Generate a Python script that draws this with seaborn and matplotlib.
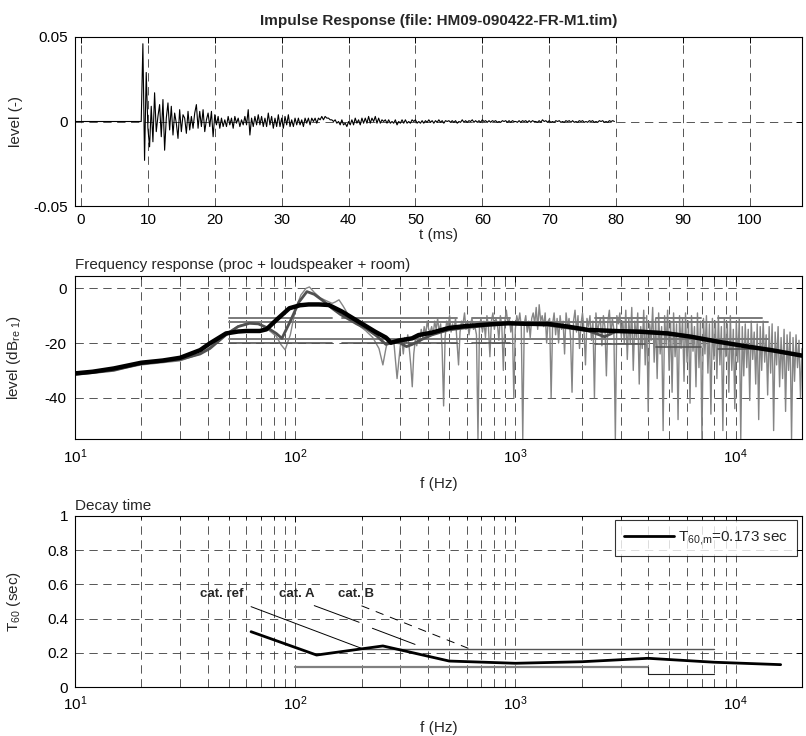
import numpy as np
import pandas as pd
import matplotlib
matplotlib.use("Agg")
import matplotlib.pyplot as plt
import seaborn as sns
from matplotlib.ticker import LogLocator, NullFormatter

# ------------------------------------------------------------------ data
# impulse response (level x 1e-3), sampled every 0.25 ms starting at 9.0 ms
ir_lead_t = [-1.0, 8.75]
ir_lead = [0.0, 0.0]
ir_t_start = 9.0
ir_dt = 0.25
ir_milli = [
    0, 46, -23, 29,   -4, -15, 9, -12,   17, -6, 3, 10,    -9, 13, -17, 2,
    11, -5, 9, -8,    5, -1, -10, 7,     -6, 4, 2, -7,     6, -5, 3, -4,
    5, 10, -4, 6,     -3, 7, -6, 1,      5, -3, 6, -9,     4, -2, 3, -4,
    2, -3, 1, -3,     3, -2, 2, -4,      3, -1, 2, -3,     1, -2, 3, -2,
    7, -8, 2, -3,     3, -2, 4, -2,      3, -3, 2, -3,     5, -2, 3, -4,
    2, -3, 4, -3,     2, -4, 3, -2,      4, -3, 1, -3,     2, -2, 2, -2,
    1, -3, 2, -1,     2, -2, 2, 0,       2, -1, 2, 1,      3, 1, 3, 2,
    2, 1, 1, 0,       1, -1, 0, -2,      1, -2, -1, -3,    0, -2, 1, -2,
    2, -1, 1, -2,     2, -1, 2, -1,      3, -1, 2, 0,      3, -1, 2, -1,
    1, 0, 1, -1,      1, -1, 0, -1,      1, -2, 0, -1,     1, -1, 1, -1,
    0, -1, 1, 0,      1, -1, 0, -1,      0.5, -1, 0.5, -0.5, 1, -0.5, 0.5, -1,
    0.5, -0.5, 1, -0.5, 0.5, -1, 0.5, 0, 0.5, -0.5, 0.5, -0.5, 0.5, -1, 0, -0.5,
    1, -0.5, 0.5, -0.5, 0.5, 0, 1, -0.5, 0.5, -0.5, 0.5, -0.5, 1, 0, 0.5, -0.5,
    0.5, -0.5, 0.5, 0, 0.5, -0.5, 0, -0.5, 0.5, 0, 0.5, -0.5, 0.5, -0.5, 0.5, 0,
    0, -0.5, 0.5, -0.5, 0.5, 0, 0.5, -0.5, 0.5, -0.5, 0.5, 0, 0, -0.5, 0.5, -0.5,
    1, 0, 0.5, -0.5,  0.5, -0.5, 0, -0.5, 0.5, 0, 0.5, -0.5, 0, -0.5, 0.5, 0,
    0.5, -0.5, 0.5, -0.5, 0, -0.5, 0.5, 0, 0.5, -0.5, 0, -0.5, 0.5, 0, 0.5, -0.5,
    0, -0.5, 0.5, 0,  0.5, -0.5, 0, -0.5, 0.5, 0, 0.5, 0,
]

# frequency response
oct_f = [10, 12, 15, 20, 25, 30, 37, 41, 48.5, 55, 60, 69, 74, 82, 94, 105, 115, 128, 142,
         163, 194, 231, 258, 272, 295, 339, 363, 418, 498, 593, 753, 927, 1141, 1405, 1730,
         2130, 2820, 3720, 4900, 6260, 8280, 10930, 14500, 20000]
oct_db = [-31.1, -30.5, -29.3, -27.2, -26.4, -25.4, -22.6, -20.1, -16.5, -15.8, -15.6, -15.6,
          -15.0, -11.6, -7.3, -6.2, -5.9, -5.9, -6.1, -8.5, -12.2, -15.9, -18.0, -19.9, -19.1,
          -18.3, -17.1, -16.2, -14.5, -13.8, -13.2, -12.8, -13.0, -13.0, -14.0, -15.2, -15.6,
          -15.9, -16.5, -17.7, -19.5, -21.1, -22.6, -24.6]

third_f = [10, 15, 20, 30, 37, 41, 48.5, 55, 62, 68, 75, 82, 87, 95, 104, 113, 122, 135, 147,
           160, 175, 190, 209, 235, 258, 280, 300, 320, 340, 380, 418, 460, 498, 611, 753, 927,
           1141, 1405, 1730, 2130, 2540, 2900, 3720, 4900, 6260, 8280, 10930, 14500, 20000]
third_db = [-31.5, -30.0, -27.5, -26.0, -24.0, -22.0, -17.0, -14.0, -12.8, -13.0, -14.5, -16.5,
            -18.3, -12.0, -5.0, -1.2, -2.2, -4.8, -7.3, -9.5, -11.3, -13.0, -14.6, -17.5, -20.5,
            -19.7, -20.0, -21.3, -20.5, -18.5, -17.0, -16.0, -15.2, -14.3, -13.5, -12.7, -13.2,
            -13.5, -14.5, -15.5, -17.7, -15.5, -15.6, -16.2, -17.5, -19.3, -21.0, -22.5, -24.8]

raw_lo_f = [10, 15, 20, 30, 37, 41, 48.5, 55, 62, 68, 75, 82, 86, 90, 95, 100, 106, 112, 116,
            122, 130, 138, 147, 152, 158, 165, 175, 190, 209, 225, 240, 250, 258, 265, 272, 280,
            290, 300]
raw_lo_db = [-31, -30, -28, -26.5, -24, -21.5, -16.5, -13.8, -12.5, -13, -15, -17.5, -20.5,
             -22.5, -17, -8, -2.5, 0, 0.5, -1.5, -3.5, -4.5, -5.5, -5, -4.2, -6.5, -10, -13,
             -15.5, -18, -22, -28, -22, -18, -20, -19, -33, -21]
raw_hi_start, raw_hi_stop = 300, 20000
raw_hi_db = [
    -21, -19, -24, -18, -20, -17, -22, -28, -36, -24, -19, -21, -17, -20, -15, -18, -14, -17, -12, -15, -16,
    -14, -17, -12, -15, -11, -16, -13, -22, -43, -18, -12, -14, -10, -16, -13, -15, -11, -20, -28, -16,
    -12, -13, -9, -15, -12, -17, -13, -11, -15, -14,
    -17, -55, -14, -11, -16, -12, -18, -10, -14, -25, -12, -9, -15, -11, -13, -19, -10, -14, -30, -12,
    -8, -13, -11, -16, -12, -40, -15, -10, -13, -9, -14, -55, -13, -10, -16, -12, -18, -11, -9, -13,
    -7, -15, -6, -12, -10, -14, -9, -20, -12, -11,
    -40, -13, -9, -17, -11, -20, -10, -15, -12, -24, -9, -14, -11, -18, -38, -12, -8, -16, -10, -22,
    -13, -9, -15, -28, -11, -14, -10, -19, -12, -40, -9, -16, -13, -11, -21, -10, -14, -32, -12, -8,
    -17, -11, -15, -55, -10, -13, -9, -18, -12, -20,
    -8, -26, -11, -20, -7, -30, -12, -18, -9, -35, -14, -22, -8, -28, -10, -45, -13, -19, -7, -27,
    -11, -33, -9, -24, -14, -52, -10, -21, -8, -30, -12, -38, -9, -25, -13, -48, -10, -22, -11, -34,
    -9, -27, -12, -42, -10, -23, -14, -36, -9, -29, -12, -55, -11, -24, -10, -31, -13, -46, -11, -26,
    -12, -33, -10, -28, -14, -52, -11, -25, -13, -38, -10, -30, -15, -44, -12, -27, -11, -55, -14, -32,
    -13, -29, -15, -41, -12, -26, -16, -35, -13, -48, -14, -30, -12, -27, -17, -39, -14, -31, -13, -52,
    -16, -28, -14, -36, -18, -33, -15, -45, -17, -30, -16, -55, -18, -34, -17, -29, -19, -40, -22,
]

# tolerance lines in the frequency-response panel
tol_long_f = [50, 14000]
tol_long_db = [-12.2, -18.5]
tol_seg_f1 = [50, 163, 632, 2290, 4340, 8270]
tol_seg_f2 = [147, 541, 948, 3870, 6960, 13200]
tol_seg_up = [-10.7, -10.7, -10.7, -10.7, -10.7, -10.7]
tol_seg_lo = [-20.1, -20.1, -20.1, -20.4, -21.6, -22.3]

# decay time
t60_f = [63, 125, 250, 500, 1000, 2000, 4000, 8000, 16000]
t60_s = [0.324, 0.188, 0.241, 0.153, 0.140, 0.149, 0.169, 0.146, 0.132]
lim_lo_f = [100, 4000]
lim_lo_s = [0.12, 0.12]
lim_step_f = [4000, 4000, 8000]
lim_step_s = [0.12, 0.076, 0.076]
lim_hi_f = [200, 8000]
lim_hi_s = [0.222, 0.222]
catref_f = [63, 200]
catref_s = [0.47, 0.227]
catA_f = [[122, 195], [224, 350]]
catA_s = [[0.476, 0.379], [0.344, 0.25]]
catB_f = [200, 611]
catB_s = [0.475, 0.227]
cat_labels = ["cat. ref", "cat. A", "cat. B"]
t60_mean = 0.173

# ------------------------------------------------------------------ style
sns.set_theme(style="white")
plt.rcParams["font.family"] = ["Liberation Sans", "DejaVu Sans"]
plt.rcParams["mathtext.default"] = "regular"
plt.rcParams["lines.scale_dashes"] = False
plt.rcParams["axes.edgecolor"] = "black"
plt.rcParams["axes.linewidth"] = 0.8
FS = 11

fig = plt.figure(figsize=(8.06, 7.36), dpi=100)
W, H = 806.0, 736.0
def box(l, t, r, b):
    return [l / W, 1 - b / H, (r - l) / W, (b - t) / H]

ax1 = fig.add_axes(box(75, 37, 802, 206))
ax2 = fig.add_axes(box(75, 276, 802, 439.3))
ax3 = fig.add_axes(box(75, 515.7, 802, 687.3))

grid_kw = dict(color="#3a3a3a", linewidth=0.6, linestyle=(0, (6, 4)))

def style_axis(ax, pad=5):
    for s in ax.spines.values():
        s.set_color("black")
        s.set_linewidth(0.8)
    ax.tick_params(direction="in", which="major", length=4, width=0.7, top=True, right=True,
                   colors="black", labelsize=FS, pad=pad)
    ax.tick_params(direction="in", which="minor", length=2, width=0.6, top=True, right=True,
                   colors="black")

# ------------------------------------------------------------------ impulse response
ir_t = np.concatenate([ir_lead_t, ir_t_start + ir_dt * np.arange(len(ir_milli))])
ir_v = np.concatenate([ir_lead, np.array(ir_milli) * 1e-3])
sns.lineplot(x=ir_t, y=ir_v, ax=ax1, color="black", linewidth=0.8, estimator=None, sort=False)
ax1.set_xlim(-0.9, 107.8)
ax1.set_ylim(-0.05, 0.05)
ax1.set_xticks(np.arange(0, 101, 10))
ax1.set_yticks([-0.05, 0, 0.05])
ax1.set_yticklabels(["-0.05", "0", "0.05"])
ax1.grid(True, which="major", **grid_kw)
ax1.set_axisbelow(True)
style_axis(ax1)
ax1.set_xlabel("t (ms)", fontsize=FS, labelpad=1)
ax1.set_ylabel("level (-)", fontsize=FS)
ax1.yaxis.set_label_coords(-0.072, 0.5)
ax1.set_title("Impulse Response (file: HM09-090422-FR-M1.tim)", fontsize=FS,
              fontweight="bold", pad=8.5)

# ------------------------------------------------------------------ frequency response
ax2.set_xscale("log")
raw_hi_f = np.geomspace(raw_hi_start, raw_hi_stop, len(raw_hi_db))
raw_f = np.concatenate([raw_lo_f, raw_hi_f[1:]])
raw_db = np.concatenate([raw_lo_db, raw_hi_db[1:]])
sns.lineplot(x=raw_f, y=raw_db, ax=ax2, color="#858585", linewidth=1.0, estimator=None, sort=False)
for lev in tol_long_db:
    sns.lineplot(x=tol_long_f, y=[lev, lev], ax=ax2, color="#7a7a7a", linewidth=1.4,
                 estimator=None, sort=False)
for f1, f2, up, lo in zip(tol_seg_f1, tol_seg_f2, tol_seg_up, tol_seg_lo):
    sns.lineplot(x=[f1, f2], y=[up, up], ax=ax2, color="#7a7a7a", linewidth=1.4,
                 estimator=None, sort=False)
    sns.lineplot(x=[f1, f2], y=[lo, lo], ax=ax2, color="#555555", linewidth=1.2,
                 estimator=None, sort=False)
sns.lineplot(x=third_f, y=third_db, ax=ax2, color="#505050", linewidth=2.0, estimator=None, sort=False)
sns.lineplot(x=oct_f, y=oct_db, ax=ax2, color="black", linewidth=3.2, estimator=None, sort=False)
ax2.set_xlim(10, 20000)
ax2.set_ylim(-55.2, 4.5)
ax2.set_yticks([-40, -20, 0])
ax2.set_yticklabels(["-40", "-20", "0"])
ax2.xaxis.set_major_locator(LogLocator(base=10, numticks=10))
ax2.xaxis.set_minor_locator(LogLocator(base=10, subs=np.arange(2, 10), numticks=50))
ax2.xaxis.set_minor_formatter(NullFormatter())
ax2.grid(True, which="major", axis="y", **grid_kw)
ax2.grid(True, which="both", axis="x", **grid_kw)
ax2.set_axisbelow(True)
style_axis(ax2, pad=6)
ax2.set_xlabel("f (Hz)", fontsize=FS, labelpad=8)
ax2.set_ylabel("level (dB$_{re\\ 1}$)", fontsize=FS)
ax2.yaxis.set_label_coords(-0.072, 0.5)
ax2.set_title("Frequency response (proc + loudspeaker + room)", fontsize=FS, loc="left", pad=5)

# ------------------------------------------------------------------ decay time
ax3.set_xscale("log")
sns.lineplot(x=lim_lo_f, y=lim_lo_s, ax=ax3, color="#808080", linewidth=1.6, estimator=None, sort=False)
sns.lineplot(x=lim_step_f, y=lim_step_s, ax=ax3, color="#222222", linewidth=0.8, estimator=None, sort=False)
sns.lineplot(x=lim_hi_f, y=lim_hi_s, ax=ax3, color="#555555", linewidth=1.0, estimator=None, sort=False)
sns.lineplot(x=catref_f, y=catref_s, ax=ax3, color="black", linewidth=0.7, estimator=None, sort=False)
for fs_, ss_ in zip(catA_f, catA_s):
    sns.lineplot(x=fs_, y=ss_, ax=ax3, color="black", linewidth=0.7, estimator=None, sort=False)
ax3.plot(catB_f, catB_s, color="black", linewidth=0.7, linestyle=(0, (6, 5)))
sns.lineplot(x=t60_f, y=t60_s, ax=ax3, color="black", linewidth=2.0, estimator=None, sort=False,
             label="T$_{60{,}m}$=%.3f sec" % t60_mean)
ax3.text(58, 0.545, cat_labels[0], fontsize=9.5, fontweight="bold", ha="right", va="center")
ax3.text(122, 0.545, cat_labels[1], fontsize=9.5, fontweight="bold", ha="right", va="center")
ax3.text(229, 0.545, cat_labels[2], fontsize=9.5, fontweight="bold", ha="right", va="center")
ax3.set_xlim(10, 20000)
ax3.set_ylim(0, 1)
ax3.set_yticks([0, 0.2, 0.4, 0.6, 0.8, 1.0])
ax3.set_yticklabels(["0", "0.2", "0.4", "0.6", "0.8", "1"])
ax3.xaxis.set_major_locator(LogLocator(base=10, numticks=10))
ax3.xaxis.set_minor_locator(LogLocator(base=10, subs=np.arange(2, 10), numticks=50))
ax3.xaxis.set_minor_formatter(NullFormatter())
ax3.grid(True, which="major", axis="y", **grid_kw)
ax3.grid(True, which="both", axis="x", **grid_kw)
ax3.set_axisbelow(True)
style_axis(ax3)
ax3.set_xlabel("f (Hz)", fontsize=FS, labelpad=6)
ax3.set_ylabel("T$_{60}$ (sec)", fontsize=FS)
ax3.yaxis.set_label_coords(-0.072, 0.5)
ax3.set_title("Decay time", fontsize=FS, loc="left", pad=4)
leg = ax3.legend(loc="upper right", bbox_to_anchor=(0.993, 0.975), borderaxespad=0,
                 fontsize=FS, frameon=True, fancybox=False, handlelength=3.3,
                 handletextpad=0.2, borderpad=0.6)
leg.get_frame().set_edgecolor("black")
leg.get_frame().set_linewidth(0.8)

fig.savefig("out.png", dpi=100)
